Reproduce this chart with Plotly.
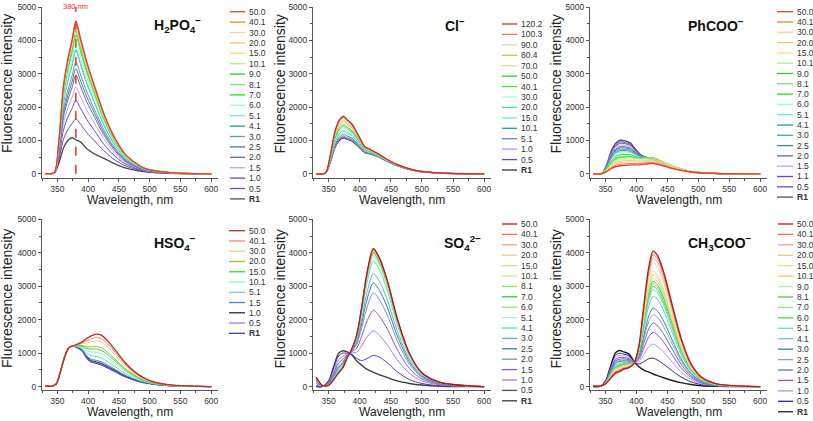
import plotly.graph_objects as go

# ------------------------------------------------------------------ data
# H2PO4-
WL_H2PO4 = [330, 345, 352, 360, 367, 374, 380, 388, 398, 410, 425, 440, 460, 490, 530, 600]
LAB_H2PO4 = ["50.0", "40.1", "30.0", "20.0", "15.0", "10.1", "9.0", "8.1", "7.0", "6.0",
             "5.1", "4.1", "3.0", "2.5", "2.0", "1.5", "1.0", "0.5", "R1"]
INT_H2PO4 = [
    [0, 50, 910, 2650, 3430, 4020, 4570, 4020, 3340, 2650, 1830, 1190, 590, 180, 45, 0],
    [0, 45, 900, 2630, 3400, 3990, 4530, 3990, 3310, 2630, 1810, 1180, 590, 180, 45, 0],
    [0, 45, 900, 2610, 3380, 3960, 4500, 3960, 3290, 2610, 1800, 1170, 585, 180, 45, 0],
    [0, 45, 890, 2580, 3340, 3920, 4450, 3920, 3250, 2580, 1780, 1160, 580, 180, 45, 0],
    [0, 44, 880, 2550, 3300, 3870, 4400, 3870, 3210, 2550, 1760, 1140, 570, 175, 44, 0],
    [0, 44, 870, 2520, 3260, 3830, 4350, 3830, 3180, 2520, 1740, 1130, 565, 175, 44, 0],
    [0, 43, 860, 2490, 3230, 3780, 4300, 3780, 3140, 2490, 1720, 1120, 560, 170, 43, 0],
    [0, 42, 840, 2440, 3150, 3700, 4200, 3700, 3070, 2440, 1680, 1090, 550, 170, 42, 0],
    [0, 42, 830, 2410, 3110, 3650, 4150, 3650, 3030, 2410, 1660, 1080, 540, 165, 42, 0],
    [0, 40, 790, 2290, 2960, 3480, 3950, 3480, 2880, 2290, 1580, 1030, 510, 160, 40, 0],
    [0, 38, 750, 2180, 2810, 3300, 3750, 3300, 2740, 2180, 1500, 980, 490, 150, 38, 0],
    [0, 37, 740, 2150, 2780, 3260, 3700, 3260, 2700, 2150, 1480, 960, 480, 150, 37, 0],
    [0, 34, 670, 1940, 2510, 2950, 3350, 2950, 2450, 1940, 1340, 870, 440, 135, 34, 0],
    [0, 32, 630, 1830, 2360, 2770, 3150, 2770, 2300, 1830, 1260, 820, 410, 125, 32, 0],
    [0, 30, 590, 1710, 2210, 2600, 2950, 2600, 2150, 1710, 1180, 770, 380, 120, 30, 0],
    [0, 28, 540, 1530, 1970, 2300, 2600, 2300, 1900, 1520, 1060, 690, 350, 110, 28, 0],
    [0, 25, 470, 1320, 1700, 1960, 2200, 1950, 1620, 1300, 900, 590, 300, 95, 25, 0],
    [0, 25, 380, 1040, 1320, 1510, 1650, 1480, 1230, 990, 700, 460, 240, 80, 20, 0],
    [0, 25, 300, 780, 1000, 1080, 1020, 950, 750, 600, 470, 330, 180, 70, 15, 0],
]
MARK_H2PO4 = 380  # nm, dashed marker

# Cl-
WL_CL = [330, 345, 352, 360, 367, 374, 380, 388, 398, 408, 418, 428, 440, 460, 490, 530, 600]
LAB_CL = ["120.2", "100.3", "90.0", "80.4", "70.0", "50.0", "40.1", "30.0", "20.0", "15.0",
          "10.1", "5.1", "1.0", "0.5", "R1"]
INT_CL = [
    [0, 25, 480, 1250, 1600, 1720, 1620, 1480, 1150, 820, 720, 620, 480, 280, 100, 25, 0],
    [0, 25, 469, 1222, 1564, 1682, 1585, 1450, 1130, 809, 712, 615, 476, 278, 99, 25, 0],
    [0, 24, 451, 1175, 1504, 1618, 1527, 1400, 1097, 791, 699, 606, 470, 275, 98, 24, 0],
    [0, 24, 440, 1147, 1468, 1579, 1492, 1370, 1077, 780, 691, 600, 467, 273, 98, 24, 0],
    [0, 24, 426, 1109, 1420, 1528, 1446, 1330, 1051, 766, 681, 593, 462, 271, 97, 24, 0],
    [0, 23, 410, 1067, 1366, 1470, 1394, 1285, 1021, 750, 669, 585, 457, 268, 96, 23, 0],
    [0, 23, 395, 1029, 1318, 1419, 1347, 1245, 995, 735, 659, 578, 452, 266, 95, 23, 0],
    [0, 22, 381, 992, 1270, 1368, 1301, 1205, 969, 721, 649, 571, 447, 264, 95, 22, 0],
    [0, 22, 361, 940, 1204, 1298, 1237, 1150, 932, 701, 634, 561, 440, 260, 93, 22, 0],
    [0, 21, 349, 907, 1162, 1253, 1197, 1115, 909, 689, 625, 554, 436, 258, 93, 21, 0],
    [0, 21, 329, 855, 1096, 1182, 1133, 1060, 873, 669, 611, 544, 430, 255, 92, 21, 0],
    [0, 20, 315, 818, 1048, 1131, 1086, 1020, 846, 654, 600, 537, 425, 252, 91, 20, 0],
    [0, 20, 307, 800, 1025, 1105, 1063, 1000, 833, 647, 595, 534, 422, 251, 90, 20, 0],
    [0, 20, 305, 790, 1010, 1095, 1050, 990, 825, 645, 595, 530, 420, 250, 90, 20, 0],
    [0, 20, 300, 780, 1000, 1080, 1040, 980, 820, 640, 590, 530, 420, 250, 90, 20, 0],
]

# PhCOO-
WL_PHCOO = [330, 345, 352, 360, 367, 374, 382, 390, 398, 408, 418, 428, 440, 460, 490, 530, 600]
LAB_PHCOO = ["50.0", "40.1", "30.0", "20.0", "15.0", "10.1", "9.0", "8.1", "7.0", "6.0",
             "5.1", "4.1", "3.0", "2.5", "2.0", "1.5", "1.1", "0.5", "R1"]
INT_PHCOO = [
    [0, 5, 64, 166, 219, 244, 254, 268, 269, 277, 304, 310, 256, 148, 48, 8, 0],
    [0, 5, 76, 194, 257, 286, 296, 310, 307, 312, 339, 345, 285, 163, 52, 9, 0],
    [0, 6, 90, 230, 304, 337, 348, 360, 351, 350, 377, 382, 315, 180, 58, 10, 0],
    [0, 7, 101, 259, 342, 378, 389, 400, 385, 378, 403, 407, 335, 191, 61, 11, 0],
    [0, 8, 112, 288, 380, 419, 430, 439, 419, 406, 430, 432, 355, 202, 65, 11, 0],
    [0, 9, 123, 317, 417, 461, 472, 482, 460, 445, 470, 472, 388, 221, 71, 12, 0],
    [0, 9, 132, 338, 445, 491, 500, 507, 476, 452, 471, 471, 386, 219, 70, 12, 0],
    [0, 10, 140, 360, 473, 521, 529, 533, 495, 462, 477, 475, 389, 220, 71, 12, 0],
    [0, 11, 154, 396, 520, 570, 576, 573, 521, 473, 478, 472, 384, 217, 70, 12, 0],
    [0, 12, 168, 432, 566, 620, 623, 614, 548, 483, 479, 468, 380, 213, 68, 12, 0],
    [0, 13, 179, 461, 603, 659, 660, 645, 568, 490, 478, 463, 374, 209, 67, 11, 0],
    [0, 14, 190, 490, 640, 699, 697, 677, 588, 497, 476, 458, 369, 205, 66, 11, 0],
    [0, 14, 202, 518, 677, 738, 734, 709, 608, 504, 475, 454, 364, 202, 65, 11, 0],
    [0, 15, 213, 547, 714, 778, 772, 741, 629, 511, 474, 449, 358, 198, 64, 11, 0],
    [0, 16, 224, 576, 751, 817, 809, 773, 649, 518, 473, 444, 353, 194, 62, 10, 0],
    [0, 17, 238, 612, 797, 867, 856, 814, 676, 529, 474, 441, 349, 191, 61, 10, 0],
    [0, 18, 252, 648, 843, 916, 902, 854, 702, 539, 474, 437, 344, 187, 60, 10, 0],
    [0, 19, 263, 677, 880, 956, 940, 886, 722, 546, 473, 432, 339, 183, 59, 9, 0],
    [0, 20, 277, 713, 927, 1005, 986, 926, 749, 557, 474, 429, 334, 180, 58, 9, 0],
]

# HSO4-
WL_HSO4 = [330, 340, 348, 355, 362, 368, 374, 382, 390, 398, 405, 413, 422, 432, 445, 460, 480, 500, 530, 570, 600]
LAB_HSO4 = ["50.0", "40.1", "30.0", "20.0", "15.0", "10.1", "5.1", "1.5", "1.0", "0.5", "R1"]
INT_HSO4 = [
    [20, 10, 80, 450, 900, 1150, 1210, 1260, 1340, 1440, 1520, 1570, 1530, 1360, 1070, 720, 380, 180, 60, 15, 0],
    [20, 10, 80, 450, 900, 1150, 1210, 1250, 1310, 1372, 1430, 1470, 1429, 1268, 998, 672, 356, 170, 57, 14, 0],
    [20, 10, 80, 450, 900, 1150, 1210, 1239, 1280, 1304, 1341, 1370, 1328, 1176, 925, 623, 332, 159, 53, 14, 0],
    [20, 10, 80, 450, 900, 1150, 1210, 1222, 1230, 1189, 1189, 1200, 1156, 1020, 802, 542, 291, 142, 47, 13, 0],
    [20, 10, 80, 450, 900, 1150, 1210, 1214, 1207, 1139, 1122, 1126, 1081, 952, 749, 506, 273, 134, 45, 12, 0],
    [20, 10, 80, 450, 900, 1150, 1210, 1204, 1179, 1074, 1036, 1031, 984, 864, 679, 460, 250, 124, 41, 12, 0],
    [20, 10, 80, 450, 900, 1150, 1210, 1191, 1140, 986, 919, 900, 852, 744, 585, 397, 218, 111, 37, 11, 0],
    [20, 10, 80, 450, 900, 1150, 1210, 1179, 1106, 909, 818, 787, 738, 640, 503, 342, 191, 99, 33, 11, 0],
    [20, 10, 80, 450, 900, 1150, 1210, 1175, 1093, 880, 779, 744, 694, 600, 472, 321, 180, 95, 32, 10, 0],
    [20, 10, 80, 450, 900, 1150, 1210, 1172, 1085, 862, 756, 717, 668, 576, 453, 308, 174, 92, 31, 10, 0],
    [20, 10, 80, 450, 900, 1150, 1210, 1170, 1080, 850, 740, 700, 650, 560, 440, 300, 170, 90, 30, 10, 0],
]

# SO4 2-
WL_SO4 = [330, 340, 350, 358, 366, 372, 380, 387, 395, 403, 412, 422, 432, 445, 460, 480, 500, 530, 600]
LAB_SO4 = ["50.0", "40.1", "30.0", "20.0", "15.0", "10.1", "8.1", "7.0", "6.0", "5.1",
           "4.1", "3.0", "2.5", "2.0", "1.5", "1.0", "0.5", "R1"]
INT_SO4 = [
    [288, 41, 41, 206, 412, 536, 865, 1112, 1524, 2348, 3420, 4120, 3832, 3131, 2060, 989, 412, 124, 0],
    [287, 41, 41, 207, 413, 537, 865, 1111, 1520, 2341, 3407, 4105, 3818, 3120, 2052, 985, 410, 123, 0],
    [287, 41, 42, 208, 415, 538, 866, 1110, 1518, 2337, 3400, 4095, 3808, 3113, 2048, 983, 409, 123, 0],
    [286, 41, 42, 209, 416, 540, 866, 1110, 1516, 2331, 3391, 4085, 3798, 3104, 2042, 980, 408, 122, 0],
    [285, 41, 43, 210, 419, 541, 867, 1110, 1513, 2325, 3380, 4070, 3784, 3092, 2035, 977, 407, 122, 0],
    [283, 40, 43, 212, 422, 544, 867, 1108, 1510, 2315, 3364, 4050, 3765, 3077, 2024, 972, 405, 121, 0],
    [281, 40, 44, 215, 425, 548, 868, 1108, 1505, 2306, 3349, 4030, 3747, 3061, 2014, 967, 403, 121, 0],
    [279, 40, 45, 217, 430, 551, 869, 1106, 1499, 2293, 3325, 4000, 3719, 3038, 1999, 960, 400, 120, 0],
    [275, 39, 46, 223, 438, 559, 873, 1104, 1489, 2270, 3286, 3950, 3672, 3000, 1974, 947, 395, 119, 0],
    [271, 39, 48, 228, 446, 566, 874, 1102, 1479, 2246, 3246, 3900, 3624, 2961, 1948, 936, 391, 117, 0],
    [260, 37, 53, 243, 470, 588, 882, 1096, 1448, 2178, 3129, 3750, 3483, 2845, 1871, 900, 376, 112, 0],
    [231, 33, 65, 282, 528, 641, 899, 1082, 1372, 2006, 2837, 3380, 3134, 2557, 1682, 810, 340, 102, 0],
    [209, 30, 74, 311, 572, 683, 912, 1071, 1315, 1877, 2617, 3100, 2870, 2340, 1538, 743, 311, 93, 0],
    [185, 26, 83, 342, 620, 726, 927, 1059, 1254, 1738, 2380, 2800, 2588, 2108, 1385, 669, 282, 84, 0],
    [145, 21, 101, 396, 703, 802, 951, 1038, 1149, 1498, 1972, 2280, 2098, 1704, 1119, 544, 231, 68, 0],
    [97, 14, 121, 460, 799, 890, 980, 1013, 1024, 1216, 1491, 1670, 1523, 1231, 807, 397, 171, 51, 0],
    [39, 6, 145, 536, 915, 997, 1000, 960, 850, 780, 840, 930, 880, 700, 450, 210, 95, 25, 0],
    [0, 0, 161, 589, 995, 1070, 1038, 963, 770, 642, 514, 428, 353, 268, 171, 96, 48, 13, 0],
]

# CH3COO-
WL_ACO = [330, 342, 350, 358, 366, 372, 380, 388, 396, 404, 412, 420, 427, 435, 445, 458, 472, 488, 505, 530, 600]
LAB_ACO = ["50.0", "40.1", "30.0", "20.0", "15.0", "10.1", "9.0", "8.1", "7.0", "6.0",
           "5.1", "4.1", "3.0", "2.5", "2.0", "1.5", "1.0", "0.5", "R1"]
INT_ACO = [
    [20, 15, 81, 243, 405, 446, 527, 567, 689, 1215, 2430, 3564, 4050, 3888, 3362, 2430, 1458, 689, 284, 81, 0],
    [20, 15, 84, 256, 427, 469, 547, 583, 694, 1201, 2380, 3479, 3951, 3791, 3278, 2369, 1422, 671, 277, 79, 0],
    [19, 15, 87, 266, 444, 487, 561, 595, 697, 1184, 2327, 3395, 3851, 3695, 3193, 2308, 1385, 655, 270, 78, 0],
    [18, 15, 89, 280, 467, 512, 581, 611, 699, 1159, 2248, 3267, 3701, 3549, 3066, 2217, 1331, 630, 259, 74, 0],
    [17, 15, 95, 303, 508, 555, 615, 638, 703, 1116, 2116, 3054, 3451, 3307, 2855, 2063, 1239, 587, 242, 69, 0],
    [16, 15, 98, 314, 525, 572, 630, 650, 705, 1100, 2064, 2969, 3351, 3210, 2771, 2002, 1203, 570, 234, 68, 0],
    [16, 15, 99, 323, 541, 589, 643, 660, 707, 1083, 2011, 2883, 3251, 3112, 2687, 1941, 1167, 552, 228, 65, 0],
    [15, 15, 102, 332, 557, 606, 656, 671, 709, 1066, 1958, 2797, 3151, 3015, 2601, 1880, 1130, 536, 221, 63, 0],
    [15, 15, 104, 339, 569, 619, 666, 679, 710, 1054, 1921, 2738, 3081, 2947, 2543, 1836, 1104, 523, 216, 62, 0],
    [14, 15, 105, 346, 581, 632, 677, 688, 711, 1040, 1879, 2670, 3001, 2869, 2475, 1788, 1076, 510, 210, 61, 0],
    [14, 15, 107, 356, 597, 649, 691, 698, 713, 1023, 1827, 2584, 2901, 2773, 2390, 1727, 1039, 494, 204, 59, 0],
    [13, 15, 111, 375, 630, 684, 719, 720, 716, 989, 1721, 2414, 2701, 2579, 2221, 1604, 966, 459, 189, 54, 0],
    [11, 15, 119, 407, 686, 743, 767, 758, 723, 929, 1536, 2115, 2350, 2238, 1925, 1390, 838, 400, 165, 47, 0],
    [10, 15, 123, 426, 718, 777, 794, 780, 725, 895, 1431, 1945, 2151, 2045, 1757, 1268, 765, 366, 151, 43, 0],
    [8, 15, 129, 450, 759, 820, 828, 807, 730, 852, 1299, 1731, 1900, 1802, 1545, 1115, 674, 323, 133, 39, 0],
    [7, 15, 135, 476, 804, 868, 866, 837, 735, 805, 1151, 1492, 1620, 1529, 1308, 943, 572, 276, 114, 33, 0],
    [5, 15, 143, 510, 861, 928, 915, 876, 741, 746, 967, 1193, 1270, 1190, 1013, 729, 444, 216, 90, 27, 0],
    [3, 15, 151, 549, 928, 999, 972, 921, 747, 674, 745, 835, 850, 782, 658, 472, 291, 145, 60, 18, 0],
    [0, 15, 162, 594, 1004, 1080, 1037, 972, 756, 594, 497, 432, 378, 324, 259, 184, 119, 65, 27, 9, 0],
]

# ------------------------------------------------------------------ styles
COL_STD19 = ["#e0442c", "#f08048", "#f2cfb0", "#f7c46c", "#f3e07a", "#b6ea98", "#2ec82e", "#7ee07e",
             "#22dd22", "#a4f4d8", "#76e4d8", "#1e9a9a", "#5e9cb4", "#4a78a0", "#5e6aa8", "#c4a2f2",
             "#7a3cd6", "#6a50b8", "#505050"]
COL_CL = ["#c83228", "#f07854", "#f5cbb5", "#f3b24c", "#cce89a", "#2ed02e", "#44e844", "#b4f2d8",
          "#50d4b8", "#86dce6", "#2f8fb0", "#7482b4", "#b896e8", "#7a3cd6", "#333333"]
COL_HSO4 = ["#b8302a", "#f28a6e", "#f5cb92", "#8ec43a", "#3ed43e", "#98f0c8", "#64d8d4", "#3a8cb0",
            "#1c2a6c", "#a874e8", "#3f3f9a"]
COL_SO4 = ["#a81e1e", "#f07050", "#f3a080", "#f5c890", "#f0d484", "#c4e8a4", "#92e070", "#2ecc2e",
           "#86ea86", "#a6f2d4", "#62d8c2", "#4eb8c4", "#2f7ea2", "#7a96b8", "#8e4ee4", "#a878ea",
           "#5a3aac", "#3c3c3c"]
COL_ACO = ["#b01e1e", "#f07050", "#f5a080", "#f5c480", "#f2d890", "#e2d064", "#b4e8a4", "#3ed03e",
           "#84e884", "#3ee03e", "#62e0c4", "#64c8d4", "#2a88a2", "#8aa2c2", "#6272a4", "#9050e2",
           "#b494f2", "#3e1e8e", "#202020"]

FONT = "Liberation Sans, Arial, sans-serif"
W, H = 813, 421


def fx(p):
    return p / W


def fy(p):
    return 1 - p / H


COLS = [(42, 218), (313, 491), (590, 767)]
ROWS = [(7, 178, [-125, 5000]), (219.3, 390, [-100, 5000])]
YTITLE_X = [7, 279.5, 555.5]
YTITLE_Y = [84, 299]
XTITLE_Y = [200.5, 412]

panels = [
    dict(wl=WL_H2PO4, lab=LAB_H2PO4, val=INT_H2PO4, col=COL_STD19, r=0, c=0,
         title="<b>H<sub>2</sub>PO<sub>4</sub><sup>\u2212</sup></b>", tpos=(152, 25),
         leg=(230, 245, 247, 11.7, 10.4)),
    dict(wl=WL_CL, lab=LAB_CL, val=INT_CL, col=COL_CL, r=0, c=1,
         title="<b>Cl<sup>\u2212</sup></b>", tpos=(443, 25),
         leg=(502, 517, 519, 24.0, 10.43)),
    dict(wl=WL_PHCOO, lab=LAB_PHCOO, val=INT_PHCOO, col=COL_STD19, r=0, c=2,
         title="<b>PhCOO<sup>\u2212</sup></b>", tpos=(686, 25),
         leg=(777, 793, 795, 11.7, 10.3)),
    dict(wl=WL_HSO4, lab=LAB_HSO4, val=INT_HSO4, col=COL_HSO4, r=1, c=0,
         title="<b>HSO<sub>4</sub><sup>\u2212</sup></b>", tpos=(152, 243),
         leg=(229, 245, 247, 230.7, 10.26)),
    dict(wl=WL_SO4, lab=LAB_SO4, val=INT_SO4, col=COL_SO4, r=1, c=1,
         title="<b>SO<sub>4</sub><sup>2\u2212</sup></b>", tpos=(442, 243),
         leg=(502, 517, 519, 224.0, 10.4)),
    dict(wl=WL_ACO, lab=LAB_ACO, val=INT_ACO, col=COL_ACO, r=1, c=2,
         title="<b>CH<sub>3</sub>COO<sup>\u2212</sup></b>", tpos=(686, 243),
         leg=(778, 793, 795, 224.0, 10.43)),
]

fig = go.Figure()
layout = dict(width=W, height=H, margin=dict(l=0, r=0, t=0, b=0),
              paper_bgcolor="white", plot_bgcolor="white", showlegend=False,
              font=dict(family=FONT, color="#222"))
shapes, annos = [], []

axis_common = dict(showline=True, linecolor="#555", linewidth=1, ticks="outside", ticklen=3,
                   tickwidth=1, tickcolor="#555", showgrid=False, zeroline=False,
                   tickfont=dict(family=FONT, size=8.5, color="#333"), automargin=False)

for i, p in enumerate(panels, start=1):
    xs = "x" if i == 1 else f"x{i}"
    ys = "y" if i == 1 else f"y{i}"
    c0, c1 = COLS[p["c"]]
    r0, r1, yr = ROWS[p["r"]]
    layout["xaxis" if i == 1 else f"xaxis{i}"] = dict(
        axis_common, domain=[fx(c0), fx(c1)], anchor=ys, range=[325, 611],
        tick0=350, dtick=50,
        minor=dict(ticks="outside", ticklen=2, tick0=325, dtick=25, tickcolor="#555"))
    layout["yaxis" if i == 1 else f"yaxis{i}"] = dict(
        axis_common, domain=[fy(r1), fy(r0)], anchor=xs, range=yr,
        tick0=0, dtick=1000,
        minor=dict(ticks="outside", ticklen=2, tick0=0, dtick=500, tickcolor="#555"))

    # axis titles
    annos.append(dict(x=fx((c0 + c1) / 2), y=fy(XTITLE_Y[p["r"]]), xref="paper", yref="paper",
                      xanchor="center", yanchor="middle", showarrow=False, text="Wavelength, nm",
                      font=dict(family=FONT, size=12, color="#222")))
    annos.append(dict(x=fx(YTITLE_X[p["c"]]), y=fy(YTITLE_Y[p["r"]]), xref="paper", yref="paper",
                      xanchor="center", yanchor="middle", showarrow=False, textangle=-90,
                      text="Fluorescence intensity", font=dict(family=FONT, size=14, color="#222")))

    n = len(p["lab"])
    for k in reversed(range(n)):
        lw = 1.4 if (k == 0 or k == n - 1) else 1.0
        fig.add_trace(go.Scatter(
            x=p["wl"], y=p["val"][k], mode="lines", xaxis=xs, yaxis=ys,
            line=dict(color=p["col"][k], width=lw, shape="spline", smoothing=0.8),
            hoverinfo="skip"))

    # panel title
    tx, ty = p["tpos"]
    annos.append(dict(x=fx(tx), y=fy(ty), xref="paper", yref="paper", xanchor="left",
                      yanchor="middle", text=p["title"], showarrow=False,
                      font=dict(family=FONT, size=14, color="#111")))

    # legend (drawn manually)
    lx0, lx1, tx0, ly0, step = p["leg"]
    for k, lab in enumerate(p["lab"]):
        yy = ly0 + k * step
        shapes.append(dict(type="line", xref="paper", yref="paper", x0=fx(lx0), x1=fx(lx1),
                           y0=fy(yy), y1=fy(yy), line=dict(color=p["col"][k], width=1.3)))
        annos.append(dict(x=fx(tx0), y=fy(yy), xref="paper", yref="paper", xanchor="left",
                          yanchor="middle", showarrow=False,
                          text=("<b>%s</b>" % lab) if lab == "R1" else lab,
                          font=dict(family=FONT, size=8.5, color="#333")))

# dashed 380 nm marker in H2PO4 panel
shapes.append(dict(type="line", xref="x", yref="y", x0=MARK_H2PO4, x1=MARK_H2PO4, y0=0, y1=5050,
                   line=dict(color="#e8351f", width=1.5, dash="dash")))
annos.append(dict(x=MARK_H2PO4, y=1.0, xref="x", yref="paper", xanchor="center", yanchor="top",
                  text="%d nm" % MARK_H2PO4, showarrow=False,
                  font=dict(family=FONT, size=7.5, color="#e8351f")))

layout["shapes"] = shapes
layout["annotations"] = annos
fig.update_layout(**layout)
fig.write_html("out.html", config={"displayModeBar": False},
               post_script="document.body.style.margin='0';")
